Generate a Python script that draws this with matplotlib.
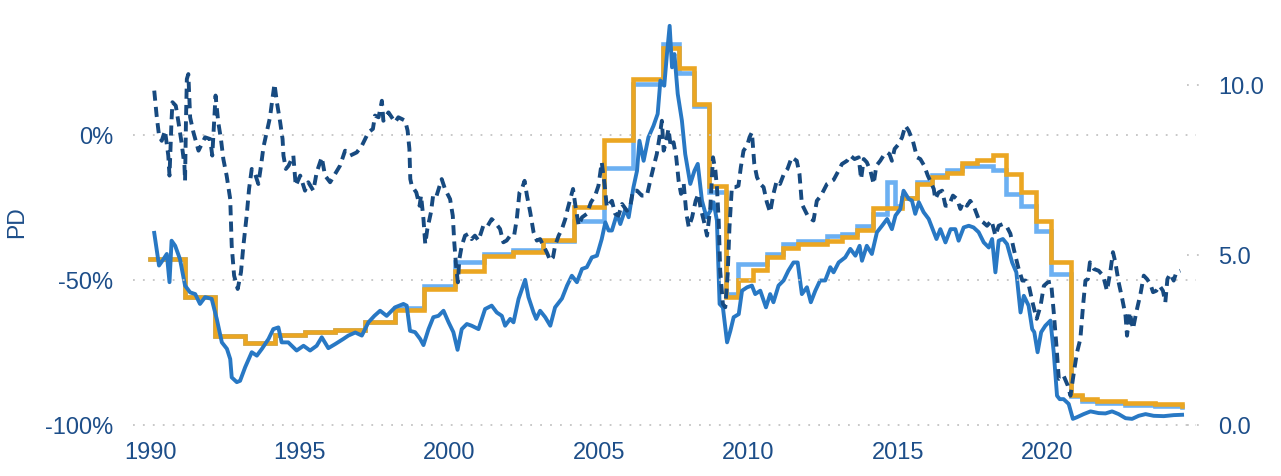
import matplotlib
matplotlib.use("Agg")
import matplotlib.pyplot as plt

# step series (change dates, levels), right axis
step_t = [1990.0, 1991.17, 1992.17, 1993.18, 1994.18, 1995.18, 1996.19, 1997.19, 1998.19, 1999.17,
          2000.18, 2001.17, 2002.15, 2003.15, 2004.16, 2005.17, 2006.16, 2007.14, 2007.67, 2008.17,
          2008.67, 2009.26, 2009.67, 2010.15, 2010.64, 2011.16, 2011.65, 2012.63, 2013.13, 2013.63,
          2014.16, 2015.14, 2015.64, 2016.14, 2016.64, 2017.15, 2017.65, 2018.17, 2018.62, 2019.12,
          2019.63, 2020.12, 2020.79, 2021.16, 2021.66, 2022.6, 2023.6, 2024.5]
orange_v = [4.88, 3.76, 2.63, 2.41, 2.66, 2.73, 2.78, 3.04, 3.39, 4.00,
            4.54, 4.96, 5.10, 5.44, 6.42, 8.38, 10.18, 11.09, 10.50, 9.44,
            7.04, 3.76, 4.25, 4.56, 4.95, 5.21, 5.32, 5.42, 5.52, 5.74,
            6.38, 6.68, 7.09, 7.30, 7.41, 7.72, 7.78, 7.94, 7.38, 6.84,
            6.01, 4.78, 0.88, 0.76, 0.71, 0.66, 0.62, 0.57]

light_t = [1990.0, 1991.17, 1992.17, 1993.18, 1994.18, 1995.18, 1996.19, 1997.19, 1998.19, 1999.17,
           2000.18, 2001.17, 2002.15, 2003.15, 2004.16, 2005.17, 2006.16, 2007.14, 2007.67, 2008.17,
           2008.67, 2009.26, 2009.67, 2010.15, 2010.64, 2011.16, 2011.65, 2012.63, 2013.13, 2013.63,
           2014.16, 2014.64, 2014.92, 2015.14, 2015.64, 2016.14, 2016.64, 2017.15, 2017.65, 2018.17,
           2018.62, 2019.12, 2019.63, 2020.12, 2020.79, 2021.16, 2021.66, 2022.6, 2023.6, 2024.5]
light_v = [4.88, 3.76, 2.63, 2.41, 2.66, 2.73, 2.78, 3.04, 3.45, 4.10,
           4.78, 5.03, 5.14, 5.40, 6.01, 7.57, 10.04, 11.20, 10.34, 9.39,
           6.84, 3.85, 4.74, 4.74, 5.03, 5.32, 5.42, 5.57, 5.62, 5.86,
           6.22, 7.14, 6.45, 6.68, 7.14, 7.35, 7.49, 7.63, 7.63, 7.49,
           6.79, 6.45, 5.72, 4.44, 0.85, 0.72, 0.66, 0.60, 0.55, 0.53]

# solid blue series, right axis
blue_t = [1990.14, 1990.30, 1990.45, 1990.56, 1990.65, 1990.72, 1990.84, 1991.00, 1991.17, 1991.34,
          1991.51, 1991.67, 1991.84, 1992.06, 1992.23, 1992.40, 1992.57, 1992.68, 1992.73, 1992.90,
          1993.01, 1993.18, 1993.40, 1993.57, 1993.74, 1993.96, 1994.12, 1994.29, 1994.40, 1994.62,
          1994.90, 1995.13, 1995.35, 1995.57, 1995.74, 1995.96, 1996.19, 1996.46, 1996.63, 1996.86,
          1997.08, 1997.30, 1997.50, 1997.69, 1997.91, 1998.19, 1998.47, 1998.58, 1998.69, 1998.86,
          1999.03, 1999.14, 1999.31, 1999.47, 1999.64, 1999.81, 1999.98, 2000.14, 2000.28, 2000.42,
          2000.59, 2000.75, 2000.98, 2001.20, 2001.42, 2001.59, 2001.76, 2001.87, 2002.04, 2002.15,
          2002.32, 2002.54, 2002.65, 2002.82, 2002.91, 2003.04, 2003.21, 2003.38, 2003.54, 2003.77,
          2003.94, 2004.10, 2004.27, 2004.44, 2004.60, 2004.77, 2004.94, 2005.10, 2005.22, 2005.33,
          2005.44, 2005.61, 2005.72, 2005.89, 2006.00, 2006.16, 2006.28, 2006.36, 2006.50, 2006.66,
          2006.83, 2006.97, 2007.06, 2007.19, 2007.28, 2007.37, 2007.45, 2007.53, 2007.64, 2007.78,
          2007.89, 2008.06, 2008.20, 2008.31, 2008.45, 2008.60, 2008.73, 2008.84, 2008.95, 2009.04,
          2009.15, 2009.29, 2009.40, 2009.51, 2009.68, 2009.79, 2009.96, 2010.12, 2010.23, 2010.40,
          2010.59, 2010.73, 2010.84, 2011.01, 2011.18, 2011.34, 2011.51, 2011.65, 2011.79, 2011.96,
          2012.09, 2012.24, 2012.40, 2012.57, 2012.74, 2012.85, 2013.02, 2013.24, 2013.41, 2013.58,
          2013.72, 2013.80, 2013.96, 2014.13, 2014.30, 2014.47, 2014.64, 2014.80, 2014.92, 2015.08,
          2015.19, 2015.36, 2015.47, 2015.58, 2015.70, 2015.86, 2016.03, 2016.14, 2016.29, 2016.42,
          2016.59, 2016.76, 2016.92, 2017.03, 2017.20, 2017.37, 2017.53, 2017.70, 2017.87, 2018.04,
          2018.15, 2018.26, 2018.37, 2018.51, 2018.65, 2018.82, 2018.96, 2019.10, 2019.21, 2019.37,
          2019.49, 2019.56, 2019.67, 2019.79, 2019.93, 2020.10, 2020.21, 2020.32, 2020.41, 2020.54,
          2020.71, 2020.85, 2020.99, 2021.21, 2021.44, 2021.71, 2021.94, 2022.16, 2022.38, 2022.61,
          2022.83, 2023.05, 2023.28, 2023.55, 2023.89, 2024.22, 2024.50]
blue_v = [5.65, 4.69, 4.88, 5.03, 4.20, 5.42, 5.27, 4.88, 4.10, 3.90,
          3.85, 3.56, 3.76, 3.71, 3.12, 2.43, 2.24, 1.94, 1.40, 1.26,
          1.30, 1.70, 2.14, 2.04, 2.24, 2.53, 2.82, 2.87, 2.43, 2.43,
          2.19, 2.33, 2.19, 2.33, 2.58, 2.26, 2.38, 2.53, 2.63, 2.72,
          2.63, 3.02, 3.21, 3.36, 3.21, 3.46, 3.56, 3.51, 2.77, 2.73,
          2.53, 2.35, 2.82, 3.17, 3.21, 3.36, 3.02, 2.73, 2.21, 2.82,
          2.97, 2.92, 2.82, 3.41, 3.51, 3.31, 3.21, 2.92, 3.12, 3.02,
          3.71, 4.27, 3.76, 3.31, 3.12, 3.36, 3.17, 2.92, 3.46, 3.72,
          4.10, 4.39, 4.20, 4.59, 4.64, 4.93, 4.98, 5.47, 5.96, 5.72,
          5.72, 6.21, 5.91, 6.35, 6.11, 6.99, 7.48, 8.36, 7.77, 8.46,
          8.80, 9.15, 10.13, 9.98, 10.91, 11.74, 10.52, 10.91, 9.74, 8.95,
          7.97, 7.09, 7.48, 7.68, 6.60, 6.11, 6.30, 6.55, 6.01, 3.56,
          3.46, 2.43, 2.77, 3.17, 3.26, 3.95, 4.05, 4.10, 3.85, 3.95,
          3.46, 3.85, 3.61, 4.10, 4.25, 4.54, 4.78, 4.78, 3.85, 4.05,
          3.61, 3.95, 4.25, 4.25, 4.64, 4.49, 4.78, 4.93, 5.18, 4.98,
          5.27, 4.83, 5.27, 5.03, 5.67, 5.86, 6.06, 5.76, 6.16, 6.35,
          6.89, 6.65, 6.60, 6.21, 6.55, 6.26, 6.06, 5.81, 5.47, 5.76,
          5.37, 5.76, 5.76, 5.42, 5.81, 5.86, 5.81, 5.67, 5.37, 5.22,
          5.47, 4.49, 5.42, 5.47, 5.32, 4.78, 4.49, 3.31, 3.80, 3.51,
          2.82, 2.73, 2.14, 2.73, 2.92, 3.07, 2.14, 0.86, 0.76, 0.76,
          0.62, 0.18, 0.23, 0.32, 0.40, 0.35, 0.34, 0.40, 0.32, 0.20,
          0.18, 0.27, 0.32, 0.27, 0.26, 0.29, 0.30]

# dashed PD series, left axis (%)
pd_t = [1990.14, 1990.22, 1990.30, 1990.39, 1990.50, 1990.61, 1990.65, 1990.72, 1990.75, 1990.86,
        1990.95, 1991.06, 1991.15, 1991.17, 1991.20, 1991.23, 1991.28, 1991.34, 1991.45, 1991.62,
        1991.84, 1992.01, 1992.08, 1992.19, 1992.28, 1992.37, 1992.45, 1992.56, 1992.68, 1992.73,
        1992.81, 1992.93, 1993.04, 1993.12, 1993.23, 1993.31, 1993.40, 1993.51, 1993.62, 1993.71,
        1993.79, 1993.90, 1994.01, 1994.09, 1994.16, 1994.24, 1994.35, 1994.43, 1994.46, 1994.54,
        1994.63, 1994.79, 1994.87, 1995.02, 1995.18, 1995.29, 1995.46, 1995.57, 1995.74, 1995.85,
        1996.02, 1996.19, 1996.35, 1996.52, 1996.69, 1996.91, 1997.08, 1997.19, 1997.30, 1997.45,
        1997.52, 1997.64, 1997.75, 1997.80, 1997.97, 1998.08, 1998.19, 1998.30, 1998.42, 1998.53,
        1998.61, 1998.67, 1998.70, 1998.75, 1998.90, 1999.01, 1999.06, 1999.14, 1999.20, 1999.27,
        1999.39, 1999.47, 1999.58, 1999.75, 1999.86, 2000.03, 2000.12, 2000.17, 2000.23, 2000.29,
        2000.34, 2000.42, 2000.53, 2000.64, 2000.75, 2000.86, 2000.98, 2001.14, 2001.26, 2001.42,
        2001.53, 2001.70, 2001.81, 2001.92, 2002.04, 2002.17, 2002.26, 2002.35, 2002.43, 2002.52,
        2002.60, 2002.71, 2002.82, 2002.93, 2003.04, 2003.15, 2003.26, 2003.38, 2003.47, 2003.54,
        2003.66, 2003.77, 2003.88, 2003.96, 2004.05, 2004.14, 2004.22, 2004.33, 2004.44, 2004.60,
        2004.74, 2004.88, 2004.99, 2005.10, 2005.20, 2005.27, 2005.44, 2005.55, 2005.66, 2005.78,
        2005.94, 2006.05, 2006.14, 2006.28, 2006.44, 2006.61, 2006.72, 2006.83, 2006.94, 2007.03,
        2007.11, 2007.17, 2007.26, 2007.33, 2007.41, 2007.50, 2007.59, 2007.67, 2007.75, 2007.84,
        2007.93, 2008.01, 2008.12, 2008.24, 2008.33, 2008.40, 2008.51, 2008.62, 2008.73, 2008.82,
        2008.90, 2008.95, 2009.01, 2009.06, 2009.15, 2009.23, 2009.31, 2009.37, 2009.45, 2009.56,
        2009.67, 2009.75, 2009.84, 2009.96, 2010.04, 2010.12, 2010.20, 2010.29, 2010.40, 2010.51,
        2010.62, 2010.73, 2010.84, 2010.95, 2011.06, 2011.19, 2011.31, 2011.45, 2011.62, 2011.71,
        2011.79, 2011.90, 2012.01, 2012.18, 2012.29, 2012.43, 2012.63, 2012.85, 2012.96, 2013.13,
        2013.30, 2013.41, 2013.55, 2013.69, 2013.77, 2013.86, 2013.96, 2014.08, 2014.19, 2014.28,
        2014.41, 2014.52, 2014.64, 2014.72, 2014.80, 2014.89, 2015.03, 2015.14, 2015.25, 2015.36,
        2015.50, 2015.64, 2015.75, 2015.88, 2016.00, 2016.08, 2016.20, 2016.25, 2016.36, 2016.48,
        2016.59, 2016.70, 2016.84, 2016.98, 2017.09, 2017.18, 2017.31, 2017.42, 2017.55, 2017.70,
        2017.85, 2017.98, 2018.13, 2018.26, 2018.37, 2018.51, 2018.65, 2018.76, 2018.88, 2019.02,
        2019.16, 2019.27, 2019.38, 2019.50, 2019.64, 2019.77, 2019.88, 2020.01, 2020.12, 2020.21,
        2020.30, 2020.38, 2020.54, 2020.68, 2020.77, 2020.90, 2020.99, 2021.10, 2021.19, 2021.27,
        2021.35, 2021.42, 2021.55, 2021.71, 2021.86, 2021.99, 2022.10, 2022.19, 2022.27, 2022.38,
        2022.50, 2022.61, 2022.66, 2022.75, 2022.86, 2022.97, 2023.11, 2023.22, 2023.33, 2023.44,
        2023.53, 2023.64, 2023.75, 2023.86, 2023.94, 2024.01, 2024.10, 2024.22, 2024.31, 2024.44]
pd_v = [15.3, 6.7, -0.2, -2.0, 1.5, -7.1, -14.0, 5.5, 11.3, 10.1,
        4.4, -3.1, -10.6, -15.8, 4.4, 19.3, 21.0, 6.1, 0.9, -5.4,
        -0.8, -1.4, -7.1, 13.6, 4.4, -1.4, -8.3, -14.0, -22.1, -38.2,
        -48.5, -53.1, -47.3, -38.2, -27.8, -18.6, -11.7, -13.4, -16.9, -10.6,
        -4.2, 0.9, 6.1, 12.4, 17.6, 11.3, 4.4, -1.4, -7.1, -11.7,
        -10.6, -7.1, -17.5, -14.0, -19.2, -16.3, -19.2, -12.9, -7.7, -14.0,
        -16.3, -13.4, -10.6, -5.4, -7.1, -6.0, -3.7, -1.4, 0.9, 2.1,
        6.7, 6.1, 11.8, 4.9, 7.8, 6.1, 4.4, 6.1, 5.5, 4.9,
        1.5, -4.8, -15.2, -17.5, -19.8, -24.4, -20.9, -29.0, -37.6, -32.4,
        -26.7, -20.3, -20.9, -15.2, -18.6, -22.1, -27.8, -37.0, -45.1, -50.8,
        -42.8, -38.2, -34.7, -34.1, -35.9, -34.7, -36.4, -31.3, -31.8, -29.0,
        -30.1, -32.4, -37.0, -36.4, -34.7, -34.7, -29.0, -19.8, -18.6, -15.8,
        -20.9, -26.7, -33.5, -36.4, -35.9, -38.2, -40.4, -43.3, -42.2, -38.2,
        -34.7, -32.4, -29.0, -25.5, -22.1, -18.6, -24.4, -31.3, -28.4, -27.2,
        -23.2, -20.9, -17.5, -9.4, -17.5, -24.9, -22.7, -27.2, -27.8, -23.8,
        -26.1, -24.9, -19.2, -19.2, -20.9, -20.9, -15.8, -11.1, -6.6, -0.8,
        4.9, -5.4, -2.0, 2.1, -4.2, -2.5, -7.7, -15.8, -20.3, -16.9,
        -27.2, -31.8, -28.4, -22.7, -20.3, -24.9, -29.5, -34.7, -24.9, -7.7,
        -12.3, -18.0, -29.5, -46.8, -58.3, -59.4, -47.9, -31.8, -18.0, -18.0,
        -17.5, -11.1, -5.4, -3.7, -0.8, 0.9, -10.0, -14.6, -16.9, -18.0,
        -23.2, -26.7, -20.3, -15.8, -16.9, -13.4, -11.7, -7.7, -8.9, -13.4,
        -23.8, -26.1, -28.4, -29.5, -22.7, -20.9, -16.9, -15.5, -13.4, -10.0,
        -8.9, -7.1, -8.3, -7.7, -15.2, -8.3, -9.4, -12.3, -16.9, -10.6,
        -8.9, -7.1, -6.0, -6.6, -8.9, -4.8, -3.1, -0.8, 3.2, 1.5,
        -2.0, -7.7, -8.3, -10.6, -14.0, -15.8, -18.6, -22.1, -19.8, -19.2,
        -24.4, -24.4, -20.9, -22.1, -25.5, -23.2, -24.4, -22.7, -24.9, -29.0,
        -30.1, -31.3, -29.5, -34.7, -31.3, -30.7, -31.8, -34.0, -39.6, -45.5,
        -50.2, -50.2, -52.0, -57.7, -63.4, -58.9, -52.0, -50.8, -50.6, -61.1,
        -72.6, -84.1, -83.0, -86.4, -89.9, -80.7, -74.9, -70.3, -58.9, -50.2,
        -49.7, -43.9, -46.2, -46.8, -48.5, -53.7, -47.3, -40.4, -43.9, -50.8,
        -56.5, -62.3, -69.2, -61.1, -66.9, -61.1, -54.8, -48.5, -49.7, -51.4,
        -54.2, -53.7, -52.0, -53.7, -57.7, -49.7, -47.9, -50.2, -47.3, -46.8]

year_ticks = [1990, 1995, 2000, 2005, 2010, 2015, 2020]
left_ticks = [0, -50, -100]
right_ticks = [0.0, 5.0, 10.0]

navy = "#1d4e89"
grid_c = "#c4c4c4"

plt.rcParams["font.family"] = ["Liberation Sans", "DejaVu Sans"]

fig = plt.figure(figsize=(12.81, 4.77), dpi=100)
ax = fig.add_axes([133 / 1281, 1 - 430 / 477, 1070 / 1281, 415 / 477])
ax2 = ax.twinx()

# rate lines on primary axes, ticks shown on the right
ax.plot(light_t, light_v, drawstyle="steps-post", color="#6cb0f2", lw=3.3, solid_joinstyle="miter")
ax.plot(step_t, orange_v, drawstyle="steps-post", color="#eba622", lw=3.3, solid_joinstyle="miter")
ax.plot(blue_t, blue_v, color="#2878c4", lw=2.8)
ax.set_ylim(-0.118, 12.088)
ax.set_xlim(1989.43, 2025.2)
ax.yaxis.tick_right()
ax.set_yticks(right_ticks)
ax.set_yticklabels(["%.1f" % v for v in right_ticks])
for v in right_ticks:
    ax.axhline(v, xmin=0.985, xmax=1.0, color=grid_c, lw=1.3, ls=(0, (1, 4.5)), zorder=0)

# PD on twin, ticks moved to the left
ax2.plot(pd_t, pd_v, color="#174a80", lw=2.8, ls=(0, (2.6, 1.6)))
ax2.set_ylim(-101.38, 41.72)
ax2.yaxis.tick_left()
ax2.set_yticks(left_ticks)
ax2.set_yticklabels(["%d%%" % v for v in left_ticks])
for v in left_ticks:
    ax2.axhline(v, xmin=0.0, xmax=0.993, color=grid_c, lw=1.3, ls=(0, (1, 4.5)), zorder=0)

ax.set_xticks(year_ticks)
ax.set_xticklabels([str(y) for y in year_ticks])

for a in (ax, ax2):
    for s in a.spines.values():
        s.set_visible(False)
    a.tick_params(length=0, labelsize=17, labelcolor=navy)
ax.tick_params(axis="y", pad=11)
ax.tick_params(axis="x", pad=9)
ax2.tick_params(axis="y", pad=14)
ax.patch.set_visible(False)

fig.text(17 / 1281, 1 - 222 / 477, "PD", rotation=90, ha="center", va="center",
         fontsize=16.5, color=navy)

fig.savefig("out.png", dpi=100)
